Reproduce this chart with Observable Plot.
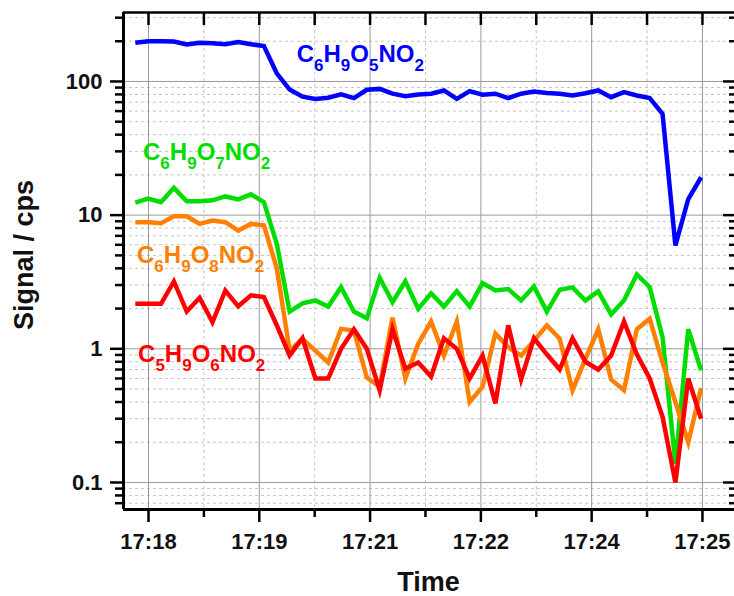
<!DOCTYPE html>
<html><head><meta charset="utf-8">
<script src="https://cdn.jsdelivr.net/npm/d3@7"></script>
<script src="https://cdn.jsdelivr.net/npm/@observablehq/plot@0.6"></script>
<style>
html,body{margin:0;padding:0;background:#fff;}
#chart svg{display:block;}
</style></head><body><div id="chart"></div>
<script>
// Sampling: first sample at 17:17:50, one sample every ~9.75 s (minutes relative to 17:18)
const startMinute = -10 / 60;
const stepMinute = 9.75 / 60;

const seriesNames = ["C6H9O5NO2", "C6H9O7NO2", "C6H9O8NO2", "C5H9O6NO2"];
const seriesColors = ["#0000ff", "#00dd00", "#ff8000", "#ff0000"];

const c6h9o5no2 = [195,200,200,199,189,195,193,190,197,190,184,
  115,87,77,74,75.5,80,75,86.7,88,
  81,77.6,80,81,85.6,74,84.6,79.5,81,75,
  81,84,82,81,78.6,81.7,85.6,76.3,83.2,78.6,
  75,57.3,5.93,13.2,19.2];
const c6h9o7no2 = [12.4,13.3,12.5,16.0,12.7,12.7,12.9,13.8,13.1,14.3,12.5,
  6.1,1.90,2.19,2.30,2.07,2.89,1.90,1.69,3.40,
  2.23,3.20,1.99,2.6,2.07,2.70,2.07,3.10,2.73,2.80,
  2.30,2.93,1.90,2.77,2.88,2.30,2.69,1.81,2.30,3.60,
  2.89,1.22,0.138,1.40,0.69];
const c6h9o8no2 = [8.86,8.86,8.7,9.8,9.8,8.6,9.1,8.86,7.67,8.6,8.4,
  4.0,0.97,1.19,0.97,0.79,1.41,1.37,0.61,0.52,
  1.71,0.60,1.09,1.6,0.89,1.6,0.40,0.52,1.30,1.03,
  0.89,1.15,1.50,1.19,0.49,0.84,1.40,0.59,0.49,1.40,
  1.68,0.79,0.40,0.20,0.51];
const c5h9o6no2 = [2.17,2.17,2.17,3.19,1.90,2.41,1.58,2.73,2.08,2.51,2.44,
  1.5,0.89,1.2,0.60,0.60,1.0,1.40,1.0,0.49,
  1.40,0.71,0.79,0.62,1.2,1.0,0.60,0.89,0.39,1.50,
  0.59,1.2,0.91,0.70,1.2,0.80,0.70,0.89,1.6,0.91,
  0.60,0.31,0.10,0.60,0.30];

const tickMinutes = [0, 1.4, 2.8, 4.2, 5.6, 7.0];
const tickLabels = ["17:18", "17:19", "17:21", "17:22", "17:24", "17:25"];
const yTickValues = [0.1, 1, 10, 100];
const yTickLabels = ["0.1", "1", "10", "100"];

// label anchors (minutes after 17:18, signal value at baseline)
const labelTimes = [1.879, -0.063, -0.139, -0.126];
const labelValues = [139, 25.6, 4.35, 0.794];

const xTitle = "Time";
const yTitle = "Signal / cps";

// ---- build table ----
const seriesValues = [c6h9o5no2, c6h9o7no2, c6h9o8no2, c5h9o6no2];
const rows = [];
seriesValues.forEach((vals, s) => vals.forEach((v, i) => rows.push({series: seriesNames[s], t: startMinute + i * stepMinute, v})));

const W = 734, H = 596, mL = 123, mR = 0, mT = 12, mB = 87;
const xDomain = [-0.316, 7.405];
const yDomain = [0.0628, 328];
const plotW = W - mL - mR, plotH = H - mT - mB;

const minorX = tickMinutes.slice(0, -1).map(d => d + 0.7);
const minorY = [];
for (const dec of [0.01, 0.1, 1, 10, 100]) for (let k = 2; k <= 9; k++) {
  const v = +(dec * k).toPrecision(3);
  if (v > yDomain[0] && v < yDomain[1]) minorY.push(v);
}
const font = "Liberation Sans, Arial, sans-serif";

const chart = Plot.plot({
  width: W, height: H,
  marginLeft: mL, marginRight: mR, marginTop: mT, marginBottom: mB,
  style: {fontFamily: font, background: "#fff"},
  x: {domain: xDomain},
  y: {type: "log", domain: yDomain},
  color: {domain: seriesNames, range: seriesColors},
  marks: [
    Plot.ruleY(minorY, {stroke: "#c4c4c4", strokeDasharray: "3,3", strokeWidth: 1}),
    Plot.ruleX(minorX, {stroke: "#c4c4c4", strokeDasharray: "3,3", strokeWidth: 1}),
    Plot.ruleY(yTickValues, {stroke: "#9a9a9a", strokeWidth: 1}),
    Plot.ruleX(tickMinutes, {stroke: "#9a9a9a", strokeWidth: 1}),
    Plot.line(rows, {x: "t", y: "v", z: "series", stroke: "series", strokeWidth: 4.5, strokeLinejoin: "miter", strokeMiterlimit: 4, strokeLinecap: "butt"}),
    // left axis
    Plot.axisY(yTickValues, {anchor: "left", tickSize: 13, tickPadding: 8, strokeWidth: 2.5,
      tickFormat: d => yTickLabels[yTickValues.indexOf(d)], fontSize: 22, fontWeight: "bold", fill: "#111", label: null}),
    Plot.axisY(minorY, {anchor: "left", tickSize: 8, strokeWidth: 2.5, tickFormat: () => "", label: null}),
    // bottom axis
    Plot.axisX(tickMinutes, {anchor: "bottom", tickSize: 13, tickPadding: 11, strokeWidth: 2.5,
      tickFormat: d => tickLabels[tickMinutes.indexOf(d)], fontSize: 22, fontWeight: "bold", fill: "#111", label: null}),
    Plot.axisX(minorX, {anchor: "bottom", tickSize: 8, strokeWidth: 2.5, tickFormat: () => "", label: null}),
    // inward ticks on top and right
    Plot.tickX(tickMinutes.concat(minorX), {insetBottom: plotH - 13, strokeWidth: 2.5}),
    Plot.tickY(yTickValues, {insetLeft: plotW - 11, strokeWidth: 2.5}),
    Plot.tickY(minorY, {insetLeft: plotW - 5, strokeWidth: 2.5}),
    // frame
    Plot.ruleX([xDomain[0]], {strokeWidth: 3}),
    Plot.ruleY([yDomain[0]], {strokeWidth: 3}),
    Plot.ruleY([yDomain[1]], {strokeWidth: 2.5})
  ]
});
document.getElementById("chart").appendChild(chart);

// ---- text annotations placed with Plot's scales ----
const sx = chart.scale("x"), sy = chart.scale("y");
const svg = d3.select(chart);
seriesNames.forEach((name, s) => {
  const x0 = sx.apply(labelTimes[s]), y0 = sy.apply(labelValues[s]);
  const t = svg.append("text").attr("x", x0).attr("y", y0).attr("text-anchor", "start")
    .attr("fill", seriesColors[s]).attr("font-family", font).attr("font-weight", "bold");
  const parts = name.match(/[A-Z]+|[0-9]+/g);
  parts.forEach(p => {
    const isSub = /^[0-9]/.test(p);
    t.append("tspan").attr("y", isSub ? y0 + 9 : y0)
      .attr("font-size", isSub ? 17 : 24).text(p);
  });
});
svg.append("text").attr("x", mL + plotW / 2).attr("y", 591).attr("text-anchor", "middle")
  .attr("font-family", font).attr("font-weight", "bold").attr("font-size", 27).attr("fill", "#111").text(xTitle);
svg.append("text").attr("transform", "translate(33,255) rotate(-90)").attr("text-anchor", "middle")
  .attr("font-family", font).attr("font-weight", "bold").attr("font-size", 27).attr("fill", "#111").text(yTitle);
</script>
</body></html>
